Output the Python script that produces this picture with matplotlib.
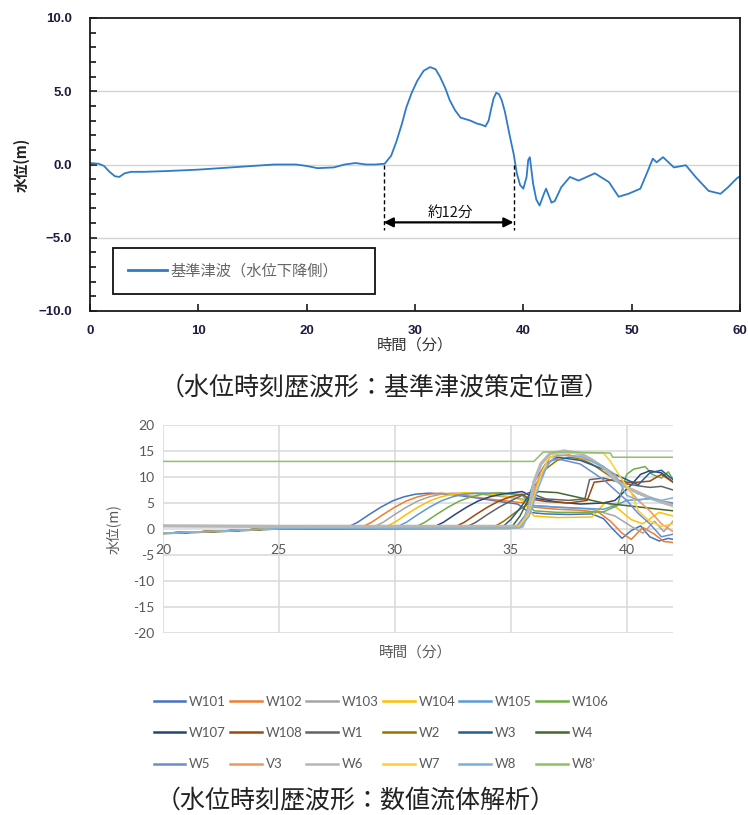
import numpy as np
import matplotlib
matplotlib.use('Agg')
import matplotlib.pyplot as plt
from matplotlib.ticker import MultipleLocator, FuncFormatter
from matplotlib.lines import Line2D

plt.rcParams['font.family'] = ['Noto Sans CJK JP', 'DejaVu Sans']

# ---- top chart: reference tsunami (time in min, water level in m)
top_t = [0, 0.8, 1.3, 1.8, 2.3, 2.7, 3.2, 3.8, 5, 7, 10, 13, 15, 17, 19, 20, 21, 22.5,
         23.5, 24.5, 25.5, 26.3, 27.2, 27.8, 28.3, 28.8, 29.2, 29.7, 30.2, 30.8, 31.4,
         31.9, 32.3, 32.8, 33.2, 33.7, 34.2, 35.1, 35.7, 36.2, 36.5, 36.8, 37.0, 37.25,
         37.5, 37.75, 38.0, 38.3, 38.6, 38.85, 39.1, 39.4, 39.7, 40.0, 40.3, 40.45, 40.6,
         40.9, 41.2, 41.5, 41.9, 42.1, 42.6, 42.9, 43.5, 44.3, 45.1, 46.6, 47.9, 48.8,
         49.7, 50.8, 51.4, 51.95, 52.3, 52.9, 53.9, 55.0, 55.9, 57.1, 58.2, 58.9, 59.7, 60]
top_level = [0.1, 0.05, -0.1, -0.5, -0.8, -0.85, -0.6, -0.5, -0.5, -0.45, -0.35, -0.2,
             -0.1, 0.0, 0.0, -0.1, -0.25, -0.2, 0.0, 0.1, 0.0, 0.0, 0.05, 0.6, 1.6, 2.8,
             3.9, 4.9, 5.7, 6.4, 6.65, 6.5, 6.0, 5.2, 4.4, 3.7, 3.2, 3.0, 2.8, 2.7, 2.6,
             3.0, 3.7, 4.5, 4.9, 4.8, 4.4, 3.6, 2.5, 1.6, 0.75, -0.6, -1.4, -1.65, -0.85,
             0.3, 0.5, -1.3, -2.4, -2.8, -2.0, -1.65, -2.6, -2.5, -1.55, -0.85, -1.1, -0.6,
             -1.2, -2.2, -2.0, -1.65, -0.6, 0.4, 0.15, 0.5, -0.2, -0.05, -0.85, -1.8, -2.0,
             -1.55, -0.95, -0.8]
top_label = '基準津波（水位下降側）'
span_start = 27.1
span_end = 39.1
span_text = '約12分'

# ---- bottom chart: numerical fluid analysis, one list pair per gauge
w101_t = [20, 22.5, 25, 27.9, 28.4, 28.9, 29.4, 29.9, 30.4, 30.9, 31.5, 32.5, 33.5, 34.5, 35.3, 35.8, 36.5, 37.5, 38.5, 39.0, 39.4, 39.8, 40.2, 40.6, 41.0, 41.4, 41.8, 42]
w101_y = [-0.8, -0.4, 0.1, 0.2, 1.3, 2.8, 4.2, 5.4, 6.2, 6.7, 6.9, 6.6, 6.0, 5.3, 4.8, 3.2, 2.9, 2.8, 2.9, 2.0, 0.0, -1.8, -0.3, 0.6, -1.5, -2.3, -1.8, -2.0]
w102_t = [20, 22.5, 25, 28.5, 29.0, 29.5, 30.0, 30.5, 31.0, 31.5, 32.0, 33.0, 34.0, 35.0, 35.6, 36.0, 37.0, 38.0, 38.8, 39.3, 39.8, 40.2, 40.7, 41.2, 41.6, 42]
w102_y = [-0.8, -0.4, 0.1, 0.2, 1.3, 2.8, 4.2, 5.4, 6.2, 6.7, 6.9, 6.5, 5.8, 5.3, 5.0, 4.2, 3.8, 3.6, 3.2, 1.5, -0.8, -2.0, 0.3, -1.0, -2.4, -2.6]
w103_t = [20, 22.5, 25, 29.0, 29.5, 30.0, 30.5, 31.0, 31.5, 32.0, 32.5, 33.5, 34.5, 35.5, 36.0, 37.0, 38.5, 39.5, 40.2, 40.7, 41.2, 41.6, 42]
w103_y = [-0.8, -0.4, 0.1, 0.2, 1.3, 2.8, 4.2, 5.4, 6.2, 6.7, 6.9, 6.8, 6.3, 5.8, 4.5, 4.2, 3.8, 2.5, 0.5, -0.8, 1.5, -0.5, 1.5]
w104_t = [20, 22.5, 25, 29.5, 30.0, 30.5, 31.0, 31.5, 32.0, 32.5, 33.0, 34.0, 35.0, 35.5, 36.0, 37.0, 38.5, 39.1, 39.6, 40.2, 40.7, 41.4, 42]
w104_y = [-0.8, -0.4, 0.1, 0.2, 1.3, 2.8, 4.2, 5.4, 6.2, 6.7, 7.0, 6.8, 6.2, 5.5, 2.5, 2.2, 2.3, 5.2, 4.0, 1.8, 1.0, 3.2, 2.5]
w105_t = [20, 22.5, 25, 30.0, 30.5, 31.0, 31.5, 32.0, 32.5, 33.0, 33.5, 34.5, 35.5, 36.0, 37.0, 38.0, 39.0, 39.5, 40.0, 41.0, 42]
w105_y = [-0.8, -0.4, 0.1, 0.2, 1.3, 2.8, 4.2, 5.4, 6.2, 6.7, 6.9, 6.9, 6.5, 4.5, 4.2, 4.0, 3.8, 4.5, 5.5, 5.8, 5.0]
w106_t = [20, 22.5, 25, 30.8, 31.3, 31.8, 32.3, 32.8, 33.3, 33.8, 34.5, 35.5, 36.0, 37.0, 38.0, 39.0, 39.6, 40.0, 40.3, 40.8, 41.1, 41.5, 41.8, 42]
w106_y = [-0.8, -0.4, 0.1, 0.2, 1.3, 2.8, 4.2, 5.4, 6.2, 6.7, 7.0, 6.6, 3.5, 3.2, 3.2, 3.3, 4.5, 10.5, 11.5, 12.0, 10.5, 9.8, 11.0, 9.5]
w107_t = [20, 22.5, 25, 31.6, 32.1, 32.6, 33.1, 33.6, 34.1, 34.6, 35.5, 36.0, 37.0, 38.0, 39.0, 39.5, 40.2, 40.6, 41.0, 41.5, 42]
w107_y = [-0.8, -0.4, 0.1, 0.2, 1.3, 2.8, 4.2, 5.4, 6.2, 6.7, 7.2, 6.0, 5.2, 4.8, 5.0, 5.5, 8.5, 10.5, 11.2, 10.8, 9.0]
w108_t = [20, 22.5, 25, 32.5, 33.0, 33.5, 34.0, 34.5, 35.0, 35.5, 35.8, 36.5, 37.5, 38.3, 38.6, 39.0, 39.5, 40.0, 40.5, 41.0, 41.5, 42]
w108_y = [-0.8, -0.4, 0.1, 0.2, 1.3, 2.8, 4.2, 5.4, 6.2, 6.7, 5.8, 5.3, 5.0, 5.5, 9.0, 9.2, 9.5, 9.0, 9.0, 9.2, 10.5, 9.0]
w1_t = [20, 22.5, 25, 33.0, 33.5, 34.0, 34.5, 35.0, 35.5, 35.8, 36.5, 37.5, 38.2, 38.4, 39.0, 39.5, 40.0, 40.5, 41.0, 41.5, 42]
w1_y = [-0.8, -0.4, 0.1, 0.2, 1.3, 2.8, 4.2, 5.4, 6.5, 7.0, 5.8, 5.5, 5.8, 9.5, 9.8, 9.2, 8.7, 8.3, 8.0, 8.2, 7.5]
w2_t = [20, 22.5, 25, 34.2, 34.7, 35.2, 35.8, 36.0, 36.5, 37.0, 37.5, 38.0, 38.5, 39.0, 39.5, 40.0, 40.5, 41.0, 41.5, 42]
w2_y = [-0.8, -0.4, 0.1, 0.2, 1.5, 3.2, 5.0, 8.0, 11.5, 13.2, 13.8, 13.5, 12.5, 11.0, 9.5, 8.0, 6.8, 6.0, 5.3, 4.8]
w3_t = [20, 22.5, 25, 34.6, 35.0, 35.4, 35.8, 36.0, 36.5, 37.0, 38.0, 39.0, 40.0, 40.5, 41.0, 41.5, 42]
w3_y = [-0.8, -0.4, 0.1, 0.2, 1.8, 4.0, 6.5, 9.0, 12.5, 13.8, 13.2, 11.5, 9.5, 8.5, 10.8, 11.3, 9.5]
w4_t = [20, 22.5, 25, 35.0, 35.4, 35.8, 36.2, 37.0, 38.0, 39.0, 40.0, 41.0, 42]
w4_y = [-0.9, -0.5, 0.0, 0.1, 2.5, 6.0, 7.2, 7.0, 6.0, 5.0, 4.5, 4.0, 3.5]
w5_t = [20, 22.5, 25, 35.2, 35.6, 35.9, 36.3, 36.7, 37.0, 38.0, 39.0, 39.5, 40.0, 40.5, 41.0, 41.5, 42]
w5_y = [-0.8, -0.4, 0.1, 0.2, 2.5, 6.0, 10.0, 13.0, 13.5, 12.5, 9.5, 7.5, 5.5, 3.0, 1.0, -1.5, -1.0]
v3_t = [20, 22.5, 25, 35.3, 35.7, 36.0, 36.3, 36.7, 37.5, 38.5, 39.0, 39.5, 40.0, 40.5, 41.0, 41.5, 42]
v3_y = [-0.8, -0.4, 0.1, 0.3, 2.5, 7.0, 11.0, 13.8, 14.3, 13.0, 12.0, 10.0, 8.0, 5.5, 3.5, 1.0, -0.5]
w6_t = [20, 25, 30, 35.5, 35.8, 36.0, 36.3, 36.7, 37.3, 38.0, 38.5, 39.0, 39.5, 40.0, 40.5, 41.0, 41.5, 42]
w6_y = [0.6, 0.5, 0.5, 0.5, 4.0, 9.0, 12.5, 14.5, 15.0, 14.5, 13.3, 11.8, 9.5, 8.0, 7.0, 6.0, 5.2, 4.5]
w7_t = [20, 22.5, 25, 35.3, 35.8, 36.2, 36.6, 37.0, 38.0, 39.0, 39.3, 39.8, 40.2, 40.5, 41.0, 41.5, 42]
w7_y = [-0.8, -0.4, 0.1, 0.2, 3.0, 9.0, 13.5, 14.5, 14.6, 14.6, 13.0, 9.5, 7.0, 3.5, 1.5, 0.5, 1.0]
w8_t = [20, 22.5, 25, 35.4, 35.8, 36.2, 36.6, 37.0, 38.0, 39.0, 39.5, 40.0, 40.5, 41.0, 41.5, 42]
w8_y = [-0.8, -0.4, 0.1, 0.2, 2.5, 8.0, 12.5, 14.2, 14.0, 12.0, 10.5, 6.5, 5.5, 6.0, 5.5, 6.0]
w8d_t = [20, 36.0, 36.4, 37.5, 39.3, 39.4, 42]
w8d_y = [13.0, 13.0, 14.8, 14.8, 14.6, 13.8, 13.8]

gauge_names = ['W101', 'W102', 'W103', 'W104', 'W105', 'W106',
               'W107', 'W108', 'W1', 'W2', 'W3', 'W4',
               'W5', 'V3', 'W6', 'W7', 'W8', "W8'"]
gauge_t = [w101_t, w102_t, w103_t, w104_t, w105_t, w106_t, w107_t, w108_t, w1_t,
           w2_t, w3_t, w4_t, w5_t, v3_t, w6_t, w7_t, w8_t, w8d_t]
gauge_y = [w101_y, w102_y, w103_y, w104_y, w105_y, w106_y, w107_y, w108_y, w1_y,
           w2_y, w3_y, w4_y, w5_y, v3_y, w6_y, w7_y, w8_y, w8d_y]
gauge_colors = ['#4472C4', '#ED7D31', '#A5A5A5', '#FFC000', '#5B9BD5', '#70AD47',
                '#264478', '#9E480E', '#636363', '#997300', '#255E91', '#43682B',
                '#698ED0', '#F1975A', '#B7B7B7', '#FFCD33', '#7CAFDD', '#8CC168']

W, H = 748, 815
fig = plt.figure(figsize=(W / 100, H / 100), dpi=100)

# ================= top chart
ax = fig.add_axes([90 / W, 1 - 311 / H, 650 / W, 293 / H])
ax.plot(top_t, top_level, color='#2F7BC8', lw=1.3, label=top_label)
ax.set_xlim(0, 60)
ax.set_ylim(-10, 10)
ax.xaxis.set_major_locator(MultipleLocator(10))
ax.yaxis.set_major_locator(MultipleLocator(5))
ax.yaxis.set_minor_locator(MultipleLocator(1))
ax.yaxis.set_major_formatter(FuncFormatter(lambda v, p: f'{v:.1f}'.replace('-', '\u2212')))
ax.tick_params(direction='in', length=5, width=1.2, colors='#1a1a1a', labelcolor='#1c1c40',
               labelsize=9.5)
ax.tick_params(axis='y', which='minor', direction='in', length=4, width=1.1)
ax.tick_params(axis='y', pad=13)
ax.tick_params(axis='x', pad=10)
for lbl in ax.get_xticklabels() + ax.get_yticklabels():
    lbl.set_fontfamily('Liberation Sans')
    lbl.set_fontweight('bold')
for s in ax.spines.values():
    s.set_linewidth(1.3)
    s.set_color('#1a1a1a')
for v in [-5, 0, 5]:
    ax.axhline(v, color='#d4d4d4', lw=1.0, zorder=0)
ax.set_xlabel('時間（分）', fontsize=11, color='#333333', labelpad=0)
ax.set_ylabel('水位(m)', fontsize=10.5, fontweight='bold', color='#222222', labelpad=6)

ax.plot([span_start, span_start], [0, -4.5], color='k', ls=(0, (3, 2)), lw=1.0)
ax.plot([span_end, span_end], [0, -4.5], color='k', ls=(0, (3, 2)), lw=1.0)
ax.annotate('', xy=(span_start, -3.95), xytext=(span_end, -3.95),
            arrowprops=dict(arrowstyle='<|-|>', color='k', lw=1.6, mutation_scale=14,
                            shrinkA=0, shrinkB=0))
ax.text((span_start + span_end) / 2 + 0.2, -3.3, span_text, ha='center', va='center',
        fontsize=10.5, color='#111111')

leg = ax.legend(loc='center', bbox_to_anchor=(0.0354, 0.058, 0.403, 0.160), mode='expand',
                fontsize=11, handlelength=2.6, handletextpad=0.2, borderpad=0.95,
                fancybox=False, framealpha=1, edgecolor='#111111', borderaxespad=0)
leg.get_frame().set_linewidth(1.3)
for t in leg.get_texts():
    t.set_color('#666666')
for h in leg.get_lines():
    h.set_linewidth(2.0)

fig.text(385 / W, 1 - 387 / H, '（水位時刻歴波形：基準津波策定位置）', ha='center', va='center',
         fontsize=18, color='#222222')

# ================= bottom chart
ax2 = fig.add_axes([163 / W, 1 - 633 / H, 510 / W, 208 / H])
for name, tt, yy, c in zip(gauge_names, gauge_t, gauge_y, gauge_colors):
    lw = 2.4 if name == 'W6' else 1.1
    ax2.plot(tt, yy, color=c, lw=lw, label=name, solid_joinstyle='round')
ax2.set_xlim(20, 42)
ax2.set_ylim(-20, 20)
ax2.xaxis.set_major_locator(MultipleLocator(5))
ax2.yaxis.set_major_locator(MultipleLocator(5))
ax2.yaxis.set_major_formatter(FuncFormatter(lambda v, p: f'{int(v)}'))
ax2.grid(True, color='#d9d9d9', lw=1.1)
ax2.set_axisbelow(True)
for k in ['top', 'right', 'left']:
    ax2.spines[k].set_visible(False)
ax2.spines['bottom'].set_position(('data', 0))
ax2.spines['bottom'].set_color('none')
ax2.tick_params(length=0, labelcolor='#595959', labelsize=10)
ax2.tick_params(axis='x', pad=11)
ax2.tick_params(axis='y', pad=6)
for lbl in ax2.get_xticklabels() + ax2.get_yticklabels():
    lbl.set_fontfamily('Lato')
ax2.set_ylabel('水位(m)', fontsize=10, color='#595959', labelpad=9)
fig.text(415 / W, 1 - 653 / H, '時間（分）', ha='center', va='center', fontsize=10.5,
         color='#595959')

# legend laid out row by row like the original
order = [r * 6 + c for c in range(6) for r in range(3)]
leg2 = fig.legend([Line2D([], [], color=gauge_colors[i], lw=1.8) for i in order],
                  [gauge_names[i] for i in order], loc='center',
                  bbox_to_anchor=(381 / W, 1 - 733 / H), ncol=6, frameon=False,
                  handlelength=2.4, handletextpad=0.3, columnspacing=0.3,
                  labelspacing=1.45, prop={'family': 'Lato', 'size': 9.5})
for t in leg2.get_texts():
    t.set_color('#595959')

fig.text(356 / W, 1 - 800 / H, '（水位時刻歴波形：数値流体解析）', ha='center', va='center',
         fontsize=18, color='#222222')

plt.savefig('out.png', dpi=100)
